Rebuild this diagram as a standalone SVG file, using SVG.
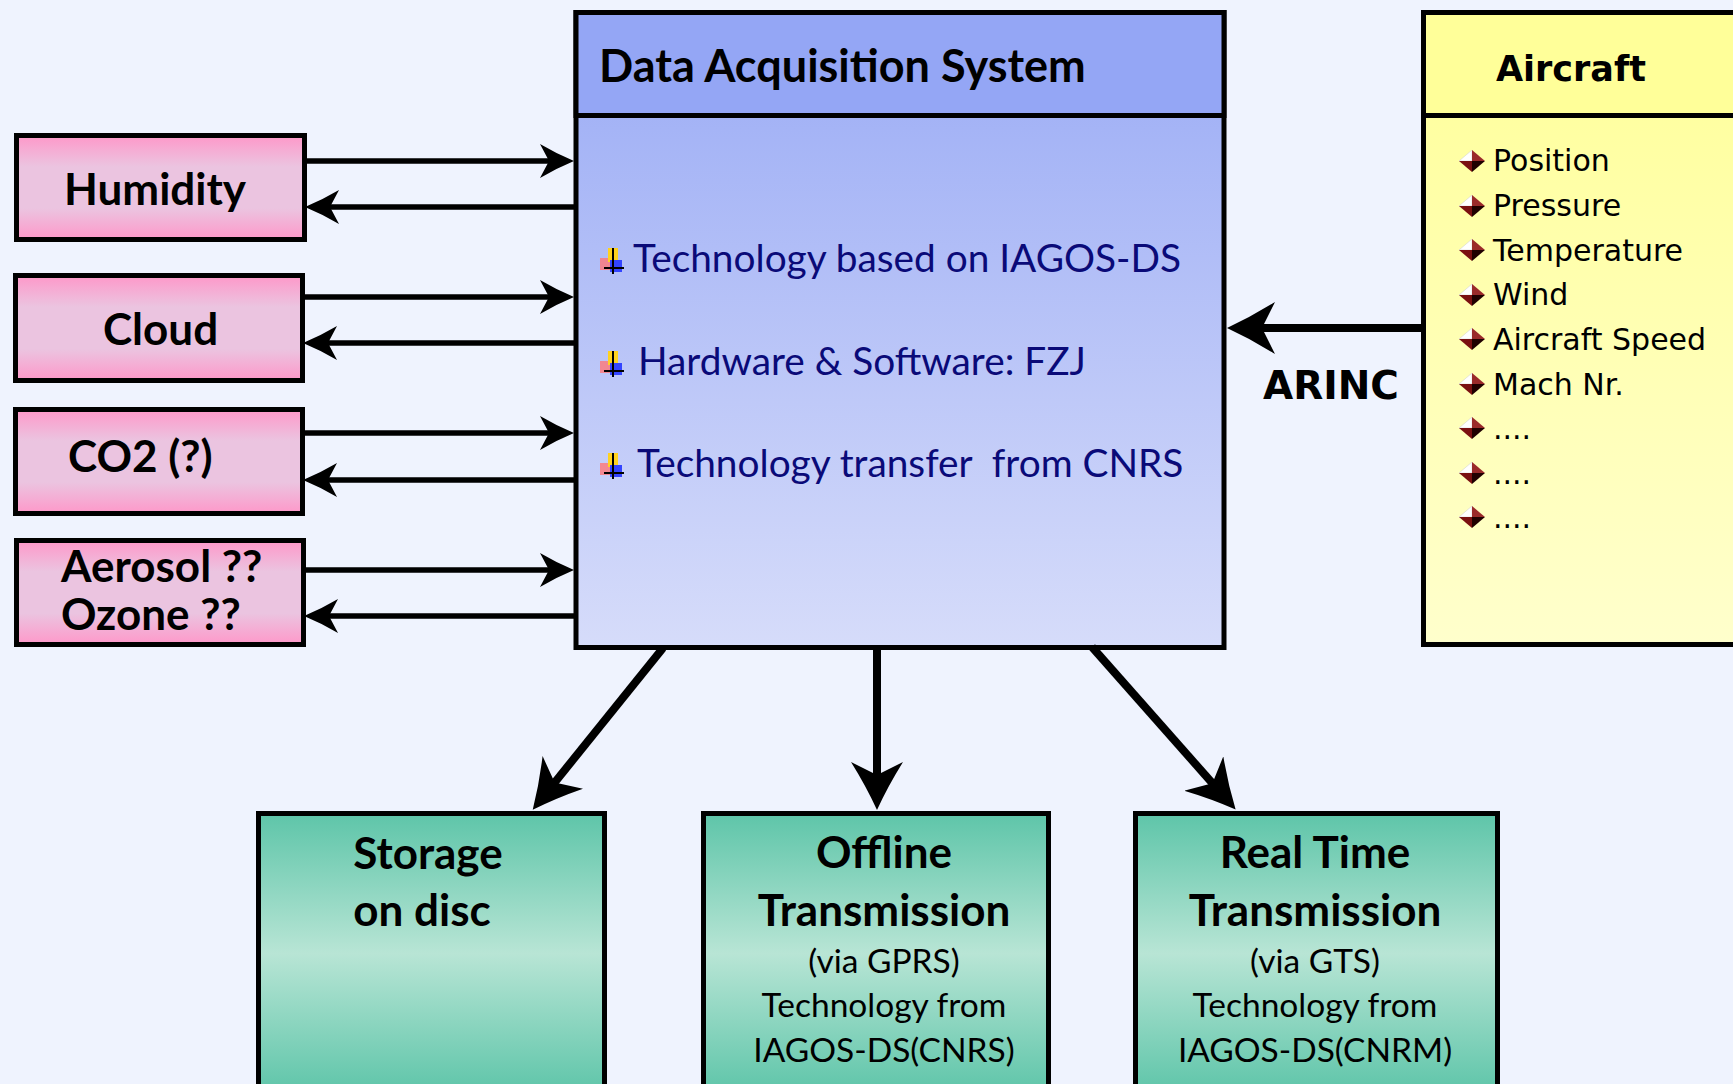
<svg xmlns="http://www.w3.org/2000/svg" width="1733" height="1084" viewBox="0 0 1733 1084">
<style>
.box{stroke:#000;stroke-width:5}
.conn{stroke:#000;fill:none}
.thin{stroke-width:5.5}
.thick{stroke-width:8}
.sens{font-family:Lato,"Liberation Sans",sans-serif;font-weight:bold;font-size:44px;fill:#000}
.title{font-family:Lato,"Liberation Sans",sans-serif;font-weight:bold;font-size:45px;fill:#000}
.das{font-family:Lato,"Liberation Sans",sans-serif;font-size:38.8px;fill:#0a0a78}
.ac{font-family:"DejaVu Sans",sans-serif;font-size:30px;fill:#000}
.achead{font-family:"DejaVu Sans",sans-serif;font-weight:bold;font-size:35px;fill:#000}
.arinc{font-family:"DejaVu Sans",sans-serif;font-weight:bold;font-size:39px;fill:#000}
.outb{font-family:Lato,"Liberation Sans",sans-serif;font-weight:bold;font-size:44px;fill:#000;text-anchor:middle}
.outr{font-family:Lato,"Liberation Sans",sans-serif;font-size:33.5px;fill:#000;text-anchor:middle}
</style>
<defs>
<linearGradient id="pink" x1="0" y1="0" x2="0" y2="1">
<stop offset="0" stop-color="#fe98c9"/><stop offset="0.3" stop-color="#ebc4e0"/><stop offset="0.7" stop-color="#ebc4e0"/><stop offset="1" stop-color="#fe98c9"/>
</linearGradient>
<linearGradient id="dasbody" x1="0" y1="0" x2="0" y2="1">
<stop offset="0" stop-color="#9aabf5"/><stop offset="1" stop-color="#d6dcfa"/>
</linearGradient>
<linearGradient id="acbody" x1="0" y1="0" x2="0" y2="1">
<stop offset="0" stop-color="#ffff99"/><stop offset="1" stop-color="#ffffcc"/>
</linearGradient>
<linearGradient id="teal" x1="0" y1="0" x2="0" y2="1">
<stop offset="0" stop-color="#5ec5a9"/><stop offset="0.5" stop-color="#b8e5d5"/><stop offset="1" stop-color="#5ec5a9"/>
</linearGradient>
<marker id="ah" markerUnits="userSpaceOnUse" markerWidth="34" markerHeight="34" viewBox="0 0 34 34" refX="26" refY="17" orient="auto">
<path d="M0,0 Q17,10 34,17 Q17,24 0,34 L9,17 Z" fill="#000"/>
</marker>
<marker id="ahb" markerUnits="userSpaceOnUse" markerWidth="48" markerHeight="52" viewBox="0 0 48 52" refX="38" refY="26" orient="auto">
<path d="M0,0 Q24,15 48,26 Q24,37 0,52 L13,26 Z" fill="#000"/>
</marker>
<g id="tb">
<rect x="0" y="10" width="12" height="12" fill="#f77" opacity="0.8"/>
<rect x="8" y="0" width="10" height="14" fill="#ffd21f"/>
<rect x="10" y="12" width="12" height="12" fill="#3344ff"/>
<path d="M13,0 V26 M4,20 H24" stroke="#000" stroke-width="2" fill="none"/>
</g>
<g id="dm">
<path d="M0,0 L13,-11 L13,0 Z" fill="#fff" stroke="#ccc" stroke-width="0.5"/>
<path d="M13,-11 L26,0 L13,0 Z" fill="#9a2a2a"/>
<path d="M0,0 L13,0 L13,11 Z" fill="#7a1010"/>
<path d="M13,0 L26,0 L13,11 Z" fill="#200000"/>
</g>
</defs>
<rect x="0" y="0" width="1733" height="1084" fill="#eff3fe"/>

<g id="humidity">
<rect class="box" x="16.5" y="135.5" width="288" height="104" fill="url(#pink)"/>
<text class="sens" x="64" y="205">Humidity</text>
</g>
<g id="cloud">
<rect class="box" x="15.5" y="275.5" width="287" height="105" fill="url(#pink)"/>
<text class="sens" x="103" y="345">Cloud</text>
</g>
<g id="co2">
<rect class="box" x="15.5" y="409.5" width="287" height="104" fill="url(#pink)"/>
<text class="sens" x="68" y="472">CO2 (?)</text>
</g>
<g id="aerosol">
<rect class="box" x="16.5" y="540.5" width="287" height="104" fill="url(#pink)"/>
<text class="sens" x="61" y="582">Aerosol ??</text>
<text class="sens" x="61" y="630">Ozone ??</text>
</g>

<g id="das">
<rect class="box" x="576" y="12.5" width="648" height="635" fill="url(#dasbody)"/>
<rect class="box" x="576" y="12.5" width="648" height="103" fill="#94a6f5"/>
<text class="title" x="599" y="82">Data Acquisition System</text>
<use href="#tb" x="600" y="248"/>
<text class="das" x="633" y="272">Technology based on IAGOS-DS</text>
<use href="#tb" x="600" y="351"/>
<text class="das" x="638" y="375">Hardware &amp; Software: FZJ</text>
<use href="#tb" x="600" y="453"/>
<text class="das" x="637" y="477" xml:space="preserve">Technology transfer  from CNRS</text>
</g>

<g id="aircraft">
<rect class="box" x="1423.5" y="12.5" width="330" height="632" fill="url(#acbody)"/>
<rect class="box" x="1423.5" y="12.5" width="330" height="103" fill="#ffff99"/>
<text class="achead" x="1496" y="81">Aircraft</text>
<use href="#dm" x="1459" y="161"/><text class="ac" x="1493" y="171">Position</text>
<use href="#dm" x="1459" y="206"/><text class="ac" x="1493" y="216">Pressure</text>
<use href="#dm" x="1459" y="250"/><text class="ac" x="1493" y="261">Temperature</text>
<use href="#dm" x="1459" y="295"/><text class="ac" x="1493" y="305">Wind</text>
<use href="#dm" x="1459" y="339"/><text class="ac" x="1493" y="350">Aircraft Speed</text>
<use href="#dm" x="1459" y="384"/><text class="ac" x="1493" y="395">Mach Nr.</text>
<use href="#dm" x="1459" y="428"/><text class="ac" x="1493" y="439">....</text>
<use href="#dm" x="1459" y="473"/><text class="ac" x="1493" y="484">....</text>
<use href="#dm" x="1459" y="517"/><text class="ac" x="1493" y="528">....</text>
</g>

<g id="storage">
<rect class="box" x="258.5" y="813.5" width="346" height="280" fill="url(#teal)"/>
<text class="outb" x="428" y="869">Storage</text>
<text class="outb" x="422" y="926">on disc</text>
</g>
<g id="offline">
<rect class="box" x="703.5" y="813.5" width="345" height="280" fill="url(#teal)"/>
<text class="outb" x="884" y="868">Offline</text>
<text class="outb" x="884" y="926">Transmission</text>
<text class="outr" x="884" y="973">(via GPRS)</text>
<text class="outr" x="884" y="1017">Technology from</text>
<text class="outr" x="884" y="1062">IAGOS-DS(CNRS)</text>
</g>
<g id="realtime">
<rect class="box" x="1135.5" y="813.5" width="362" height="280" fill="url(#teal)"/>
<text class="outb" x="1315" y="868">Real Time</text>
<text class="outb" x="1315" y="926">Transmission</text>
<text class="outr" x="1315" y="973">(via GTS)</text>
<text class="outr" x="1315" y="1017">Technology from</text>
<text class="outr" x="1315" y="1062">IAGOS-DS(CNRM)</text>
</g>

<g id="connectors">
<line class="conn thin" x1="305" y1="161" x2="566" y2="161" marker-end="url(#ah)"/>
<line class="conn thin" x1="574" y1="207" x2="313" y2="207" marker-end="url(#ah)"/>
<line class="conn thin" x1="303" y1="297" x2="566" y2="297" marker-end="url(#ah)"/>
<line class="conn thin" x1="574" y1="343" x2="311" y2="343" marker-end="url(#ah)"/>
<line class="conn thin" x1="303" y1="433" x2="566" y2="433" marker-end="url(#ah)"/>
<line class="conn thin" x1="574" y1="480" x2="311" y2="480" marker-end="url(#ah)"/>
<line class="conn thin" x1="304" y1="570" x2="566" y2="570" marker-end="url(#ah)"/>
<line class="conn thin" x1="574" y1="616" x2="312" y2="616" marker-end="url(#ah)"/>
<line class="conn thick" x1="1421" y1="328" x2="1237" y2="328" marker-end="url(#ahb)"/>
<text class="arinc" x="1263" y="399">ARINC</text>
<line class="conn thick" x1="663" y1="648" x2="539" y2="802" marker-end="url(#ahb)"/>
<line class="conn thick" x1="877" y1="648" x2="877" y2="800" marker-end="url(#ahb)"/>
<line class="conn thick" x1="1092" y1="647" x2="1229" y2="802" marker-end="url(#ahb)"/>
</g>
</svg>
